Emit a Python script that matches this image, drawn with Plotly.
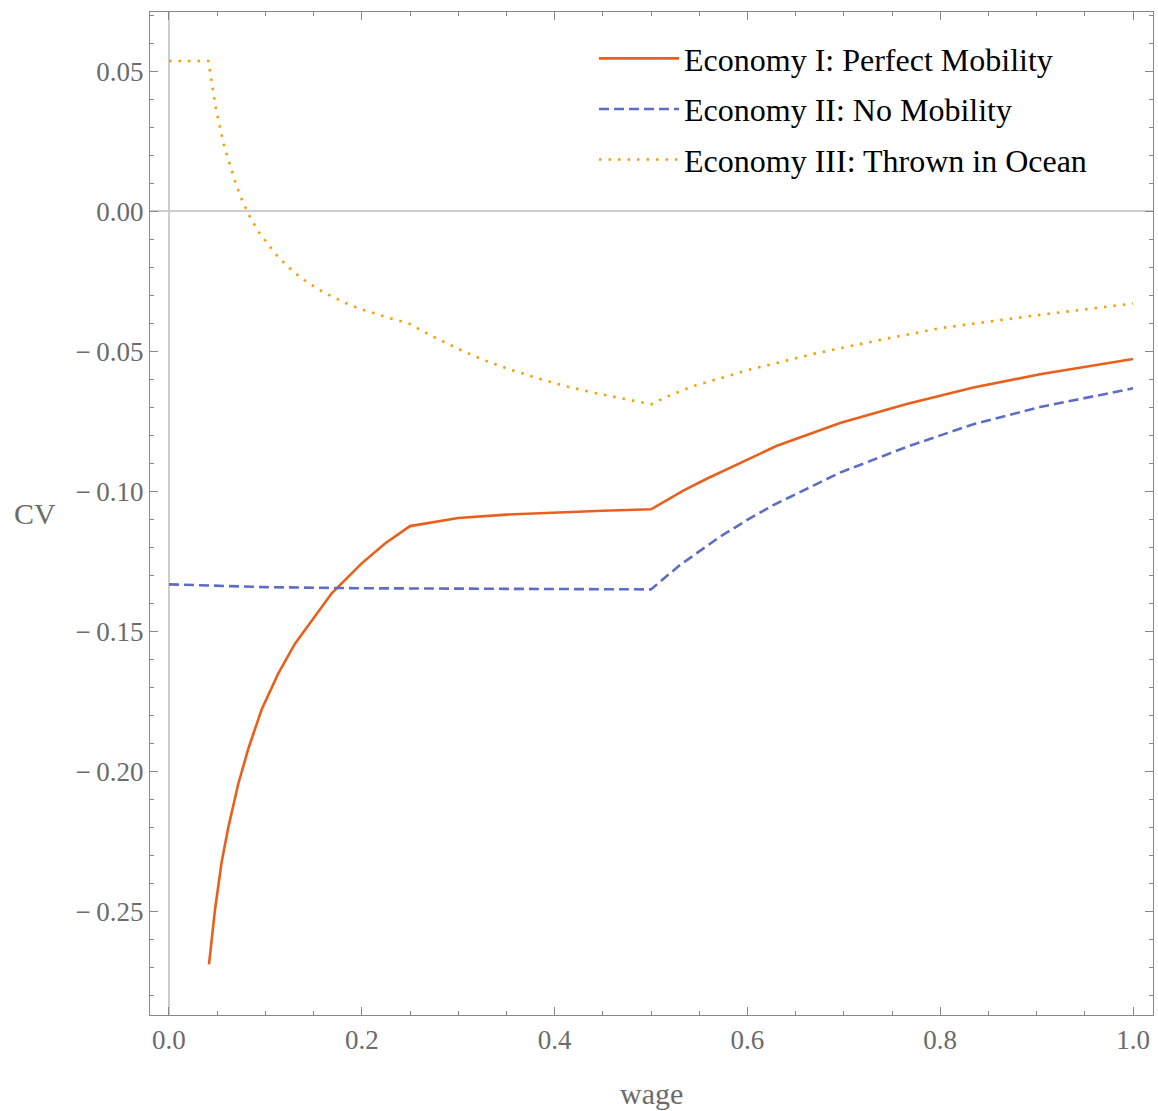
import plotly.graph_objects as go

# ---- data ----
econ1_x = [0.0415, 0.0477, 0.0546, 0.0616, 0.0719, 0.0823, 0.0961, 0.1134, 0.1307, 0.1515,
           0.1688, 0.1999, 0.2241, 0.25, 0.30, 0.35, 0.40, 0.45, 0.50, 0.5335, 0.5578,
           0.6300, 0.6961, 0.7652, 0.8344, 0.9035, 1.0]
econ1_y = [-0.2690, -0.2495, -0.2325, -0.2200, -0.2045, -0.1920, -0.1780, -0.1651, -0.1545,
           -0.1445, -0.1365, -0.1258, -0.1187, -0.1125, -0.1096, -0.1084, -0.1076, -0.1070,
           -0.1065, -0.0998, -0.0956, -0.0839, -0.0757, -0.0689, -0.0630, -0.0583, -0.0528]

econ2_x = [0.0, 0.04, 0.1, 0.2, 0.25, 0.3, 0.4, 0.5, 0.53, 0.5716, 0.5993, 0.6269, 0.6961,
           0.7652, 0.8344, 0.9035, 1.0]
econ2_y = [-0.1333, -0.1336, -0.1343, -0.1347, -0.1348, -0.1349, -0.1350, -0.1351, -0.1264,
           -0.1163, -0.1104, -0.1050, -0.0934, -0.0842, -0.0761, -0.0700, -0.0633]

econ3_x = [0.0, 0.0408, 0.0425, 0.0456, 0.0488, 0.0529, 0.0574, 0.0633, 0.0692, 0.0761, 0.0847,
           0.0951, 0.1072, 0.1134, 0.1279, 0.1435, 0.1605, 0.1784, 0.1968, 0.2155, 0.2348,
           0.25, 0.2707, 0.2977, 0.3250, 0.3530, 0.3814, 0.4101, 0.4395, 0.4686, 0.5,
           0.5162, 0.5439, 0.6027, 0.6684, 0.7376, 0.8, 0.9, 1.0]
econ3_y = [0.0536, 0.0536, 0.0500, 0.0432, 0.0364, 0.0298, 0.0231, 0.0164, 0.0099, 0.0036, -0.0026,
           -0.0085, -0.0137, -0.0165, -0.0213, -0.0255, -0.0290, -0.0321, -0.0348, -0.0369, -0.0388,
           -0.0403, -0.0443, -0.0488, -0.0530, -0.0565, -0.0596, -0.0624, -0.0648, -0.0668, -0.0690,
           -0.0663, -0.0625, -0.0566, -0.0510, -0.0460, -0.0418, -0.0372, -0.0330]

names = ["Economy I: Perfect Mobility", "Economy II: No Mobility", "Economy III: Thrown in Ocean"]

x_tickvals = [0.0, 0.2, 0.4, 0.6, 0.8, 1.0]
x_ticktext = ["0.0", "0.2", "0.4", "0.6", "0.8", "1.0"]
y_tickvals = [0.05, 0.0, -0.05, -0.10, -0.15, -0.20, -0.25]
y_ticktext = ["0.05", "0.00", "\u2212\u20090.05", "\u2212\u20090.10", "\u2212\u20090.15",
              "\u2212\u20090.20", "\u2212\u20090.25"]

FONT = "Liberation Serif"
C1 = "#E8601C"
C2 = "#5E6DC4"
C3 = "#F5A000"

fig = go.Figure()
fig.add_trace(go.Scatter(x=econ1_x, y=econ1_y, mode="lines", name=names[0], legendgroup="a",
                         line=dict(color=C1, width=2.6)))
fig.add_trace(go.Scatter(x=econ2_x, y=econ2_y, mode="lines", name=names[1], legendgroup="b",
                         line=dict(color=C2, width=2.6, dash="10px,5px")))
fig.add_trace(go.Scatter(x=econ3_x, y=econ3_y, mode="lines", name=names[2], legendgroup="c",
                         line=dict(color=C3, width=2.6, dash="2.5px,7px")))

axis_common = dict(
    showgrid=False, showline=True, linecolor="#888888", linewidth=1.2,
    mirror="allticks", ticks="inside", ticklen=8, tickcolor="#888888", tickwidth=1.2,
    tickfont=dict(family=FONT, size=27, color="#6b6b6b"),
    zeroline=True, zerolinecolor="#cccccc", zerolinewidth=1.6,
)

fig.update_layout(
    width=1158, height=1111,
    margin=dict(l=150, r=5, t=12, b=96),
    paper_bgcolor="white", plot_bgcolor="white",
    showlegend=True,
    legend=dict(x=0.4427, y=0.981, xanchor="left", yanchor="top",
                font=dict(family=FONT, size=32, color="black"),
                bgcolor="rgba(255,255,255,0)", itemwidth=80, tracegroupgap=6),
    xaxis=dict(range=[-0.0197, 1.0207], tickvals=x_tickvals, ticktext=x_ticktext,
               minor=dict(dtick=0.05, tick0=0, ticks="inside", ticklen=4, tickcolor="#888888"),
               **axis_common),
    yaxis=dict(range=[-0.2871, 0.0711], tickvals=y_tickvals, ticktext=y_ticktext,
               minor=dict(dtick=0.01, tick0=0, ticks="inside", ticklen=4, tickcolor="#888888"),
               **axis_common),
    annotations=[
        dict(text="CV", xref="paper", yref="paper", x=-0.138, y=0.5, xanchor="left",
             yanchor="middle", showarrow=False, font=dict(family=FONT, size=30, color="#6b6b6b")),
        dict(text="wage", xref="paper", yref="paper", x=0.5, y=-0.078, xanchor="center",
             yanchor="middle", showarrow=False, font=dict(family=FONT, size=30, color="#6b6b6b")),
    ],
)

fig.write_html("out.html")
